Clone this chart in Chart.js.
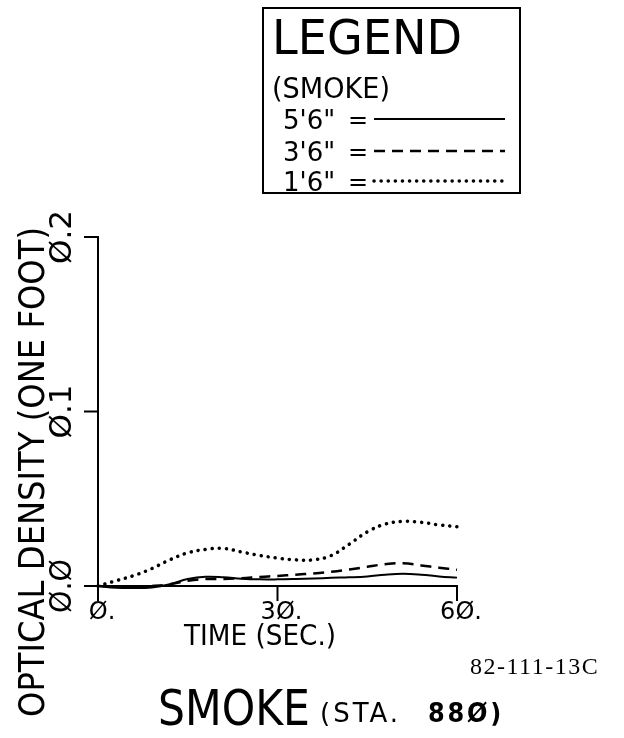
<!DOCTYPE html>
<html>
<head>
<meta charset="utf-8">
<script src="https://cdn.jsdelivr.net/npm/chart.js"></script>
<style>
    body { margin: 0; background: #fff; }
    #wrap { width: 624px; height: 738px; }
</style>
</head>
<body>
<div id="wrap"><canvas id="smokeChart" width="624" height="738"></canvas></div>
<script>
// Dados (tempo em segundos)
const times = [0, 3, 6, 9, 12, 15, 18, 21, 24, 27, 30, 33, 36, 39, 42, 45, 48, 51, 54, 57, 60];
const smoke56 = [0, -0.001, -0.0012, -0.0008, 0.001, 0.004, 0.0053, 0.005, 0.0042, 0.0038, 0.0038, 0.004, 0.0043, 0.0047, 0.005, 0.0055, 0.0065, 0.007, 0.0065, 0.0055, 0.0048];
const smoke36 = [0, -0.0005, -0.0005, 0, 0.001, 0.003, 0.004, 0.004, 0.0045, 0.0052, 0.0058, 0.0065, 0.0072, 0.0082, 0.0095, 0.011, 0.0125, 0.013, 0.0118, 0.0105, 0.0093];
const smoke16 = [0, 0.003, 0.006, 0.010, 0.015, 0.019, 0.021, 0.0215, 0.0195, 0.0175, 0.016, 0.015, 0.015, 0.0175, 0.024, 0.031, 0.0355, 0.037, 0.0365, 0.035, 0.034];
const seriesLabels = ["5'6\"", "3'6\"", "1'6\""];

const xTicks = [0, 30, 60];
const xTickLabels = ['Ø.', '3Ø.', '6Ø.'];
const yTicks = [0, 0.1, 0.2];
const yTickLabels = ['Ø.Ø', 'Ø.1', 'Ø.2'];

const FONT = '"DejaVu Sans", sans-serif';

function toPoints(values) {
    return values.map((v, i) => ({ x: times[i], y: v }));
}

function drawLine(ctx, x1, y1, x2, y2) {
    ctx.beginPath();
    ctx.moveTo(x1, y1);
    ctx.lineTo(x2, y2);
    ctx.stroke();
}

// Textos, ticks e legenda desenhados à mão (estilo plotter)
const plotterLook = {
    id: 'plotterLook',
    afterDraw(chart) {
        const ctx = chart.ctx;
        const xs = chart.scales.x;
        const ys = chart.scales.y;
        ctx.save();
        ctx.strokeStyle = '#000';
        ctx.fillStyle = '#000';
        ctx.lineWidth = 2;
        ctx.setLineDash([]);

        // ticks do eixo Y + rótulos girados
        yTicks.forEach((v, i) => {
            const py = ys.getPixelForValue(v);
            drawLine(ctx, xs.left - 14, py, xs.left, py);
            ctx.save();
            ctx.translate(63, py);
            ctx.rotate(-Math.PI / 2);
            ctx.font = '31px ' + FONT;
            ctx.textAlign = 'center';
            ctx.textBaseline = 'middle';
            ctx.fillText(yTickLabels[i], 0, 0, 54);
            ctx.restore();
        });

        // ticks do eixo X
        xTicks.forEach((v, i) => {
            const px = xs.getPixelForValue(v);
            drawLine(ctx, px, ys.bottom, px, ys.bottom + 15);
            ctx.font = '24px ' + FONT;
            ctx.textAlign = 'center';
            ctx.textBaseline = 'alphabetic';
            ctx.fillText(xTickLabels[i], px + 4, 619);
        });

        // título do eixo Y
        ctx.save();
        ctx.translate(35, 472);
        ctx.rotate(-Math.PI / 2);
        ctx.font = '36px ' + FONT;
        ctx.textAlign = 'center';
        ctx.textBaseline = 'middle';
        ctx.fillText('OPTICAL DENSITY (ONE FOOT)', 0, 0, 490);
        ctx.restore();

        // título do eixo X
        ctx.font = '28px ' + FONT;
        ctx.textAlign = 'center';
        ctx.fillText('TIME (SEC.)', 260, 645, 152);

        // número do documento
        ctx.font = '24px "Liberation Serif", serif';
        ctx.textAlign = 'left';
        ctx.letterSpacing = '1.5px';
        ctx.fillText('82-111-13C', 470, 674, 142);

        // título inferior
        ctx.letterSpacing = '0px';
        ctx.font = '50px ' + FONT;
        ctx.fillText('SMOKE', 158, 725, 152);
        ctx.letterSpacing = '3px';
        ctx.font = '26px ' + FONT;
        ctx.fillText('(STA.', 320, 722, 90);
        ctx.font = 'bold 26px ' + FONT;
        ctx.fillText('88Ø)', 428, 722, 76);
        ctx.letterSpacing = '0px';

        // legenda
        ctx.lineWidth = 2;
        ctx.strokeRect(263, 8, 257, 185);
        ctx.font = '48px ' + FONT;
        ctx.fillText('LEGEND', 272, 54, 190);
        ctx.font = '28px ' + FONT;
        ctx.fillText('(SMOKE)', 272, 98, 118);

        const rowY = [119, 151, 181];
        chart.data.datasets.forEach((ds, i) => {
            ctx.font = '26px ' + FONT;
            ctx.fillText(ds.label, 283, rowY[i] + 10, 54);
            ctx.font = '24px ' + FONT;
            ctx.fillText('=', 348, rowY[i] + 9);
            ctx.save();
            ctx.strokeStyle = ds.borderColor;
            ctx.lineWidth = ds.borderWidth;
            ctx.lineCap = ds.borderCapStyle || 'butt';
            ctx.setLineDash(ds.borderDash || []);
            drawLine(ctx, 374, rowY[i], 505, rowY[i]);
            ctx.restore();
        });

        ctx.restore();
    }
};

const ctx = document.getElementById('smokeChart').getContext('2d');
new Chart(ctx, {
    type: 'line',
    data: {
        datasets: [
            { label: seriesLabels[0], data: toPoints(smoke56), borderColor: '#000', borderWidth: 2 },
            { label: seriesLabels[1], data: toPoints(smoke36), borderColor: '#000', borderWidth: 2.5, borderDash: [11, 7] },
            { label: seriesLabels[2], data: toPoints(smoke16), borderColor: '#000', borderWidth: 3.5, borderDash: [0.1, 7], borderCapStyle: 'round' }
        ]
    },
    options: {
        responsive: false,
        animation: false,
        layout: { padding: { left: 98, top: 237, right: 167, bottom: 152 } },
        elements: {
            point: { radius: 0 },
            line: { tension: 0.4, fill: false }
        },
        datasets: { line: { clip: 6 } },
        scales: {
            x: {
                type: 'linear', min: 0, max: 60,
                ticks: { display: false },
                grid: { display: false, drawTicks: false },
                border: { display: true, color: '#000', width: 2 }
            },
            y: {
                min: 0, max: 0.2,
                ticks: { display: false },
                grid: { display: false, drawTicks: false },
                border: { display: true, color: '#000', width: 2 }
            }
        },
        plugins: {
            legend: { display: false },
            tooltip: { enabled: false }
        }
    },
    plugins: [plotterLook]
});
</script>
</body>
</html>
